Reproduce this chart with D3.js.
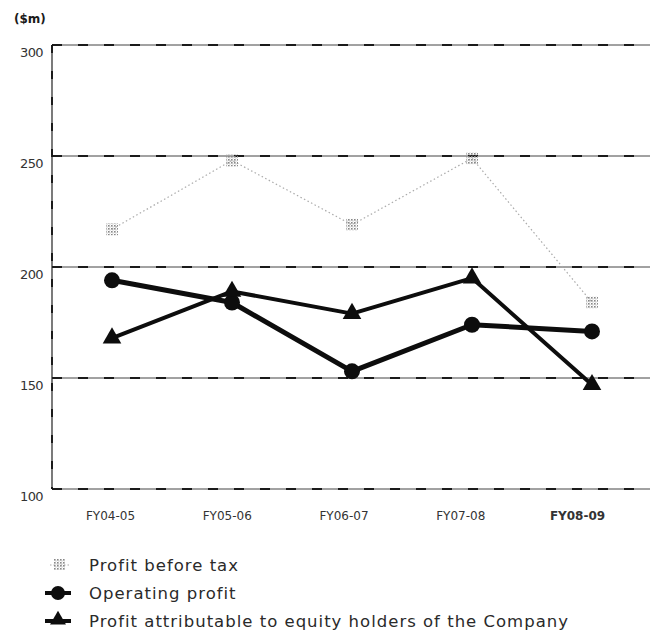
<!DOCTYPE html>
<html>
<head>
<meta charset="utf-8">
<script src="https://cdn.jsdelivr.net/npm/d3@7/dist/d3.min.js"></script>
<style>
  html, body { margin: 0; padding: 0; background: #fff; }
  svg { display: block; font-family: "DejaVu Sans", "Noto Sans", sans-serif; }
</style>
</head>
<body>
<svg id="chart" width="650" height="632"></svg>
<script>
// Financial years on the x axis
const categories = ["FY04-05", "FY05-06", "FY06-07", "FY07-08", "FY08-09"];
// Values in $m
const profitBeforeTax = [217, 248, 219, 249, 184];
const operatingProfit = [194, 184, 153, 174, 171];
const profitAttributable = [168, 189, 179, 195, 147];
// Y axis ticks
const yTicks = [100, 150, 200, 250, 300];
const legendLabels = [
  "Profit before tax",
  "Operating profit",
  "Profit attributable to equity holders of the Company"
];

const svg = d3.select("#chart");
const plotLeft = 52, plotRight = 650, plotTop = 45, plotBottom = 489;

const x = d3.scalePoint().domain(categories).range([112, 592]);
const xLabel = d3.scalePoint().domain(categories).range([110, 577]);
const y = d3.scaleLinear().domain([100, 300]).range([plotBottom, plotTop]);

// Hatched fill for the profit-before-tax markers
const defs = svg.append("defs");
const pat = defs.append("pattern").attr("id", "hatch")
  .attr("width", 3).attr("height", 3).attr("patternUnits", "userSpaceOnUse");
pat.append("rect").attr("width", 1.6).attr("height", 1.6).attr("fill", "#888");
pat.append("rect").attr("x", 1.5).attr("y", 1.5).attr("width", 1).attr("height", 1).attr("fill", "#aaa");

// Unit label
svg.append("text").attr("x", 14).attr("y", 23)
  .attr("font-size", 12).attr("font-weight", 700).attr("fill", "#1a1a1a")
  .text("($m)");

// Horizontal grid lines: thin rule with heavier dashes on top
const grid = svg.append("g");
grid.selectAll("line.rule").data(yTicks).join("line").attr("class", "rule")
  .attr("x1", plotLeft).attr("x2", plotRight)
  .attr("y1", d => y(d)).attr("y2", d => y(d))
  .attr("stroke", "#444").attr("stroke-width", 1);
grid.selectAll("line.dash").data(yTicks).join("line").attr("class", "dash")
  .attr("x1", plotLeft).attr("x2", plotRight)
  .attr("y1", d => y(d)).attr("y2", d => y(d))
  .attr("stroke", "#1a1a1a").attr("stroke-width", 1.8)
  .attr("stroke-dasharray", "10,16");

// Left axis line
svg.append("line").attr("x1", plotLeft).attr("x2", plotLeft)
  .attr("y1", plotTop).attr("y2", plotBottom)
  .attr("stroke", "#222").attr("stroke-width", 1.2);
svg.append("line").attr("x1", plotLeft).attr("x2", plotLeft)
  .attr("y1", plotTop).attr("y2", plotBottom)
  .attr("stroke", "#111").attr("stroke-width", 1.8)
  .attr("stroke-dasharray", "8,18");

// Y tick labels
const yAxis = d3.axisLeft(y).tickValues(yTicks).tickSize(0).tickPadding(9);
const gy = svg.append("g").attr("transform", `translate(${plotLeft},0)`).call(yAxis);
gy.select(".domain").remove();
gy.selectAll("text").attr("font-size", 13).attr("fill", "#333")
  .attr("font-family", "'DejaVu Sans', sans-serif").attr("font-weight", 400)
  .attr("letter-spacing", "-0.6px")
  .attr("dy", "0.85em");

// X tick labels
const xAxis = d3.axisBottom(xLabel).tickSize(0).tickPadding(22);
const gx = svg.append("g").attr("transform", `translate(0,${plotBottom})`).call(xAxis);
gx.select(".domain").remove();
gx.selectAll("text").attr("font-size", 12).attr("fill", "#333")
  .attr("font-family", "'DejaVu Sans', sans-serif")
  .attr("font-weight", d => d === "FY08-09" ? 700 : 400);

const line = d3.line().x((d, i) => x(categories[i])).y(d => y(d));

// Profit before tax: pale dotted line with grey hatched markers
svg.append("path").datum(profitBeforeTax).attr("d", line)
  .attr("fill", "none").attr("stroke", "#aaa").attr("stroke-width", 1.2)
  .attr("stroke-dasharray", "1.5,2.5");
svg.append("g").selectAll("rect").data(profitBeforeTax).join("rect")
  .attr("x", (d, i) => x(categories[i]) - 6).attr("y", d => y(d) - 6)
  .attr("width", 12).attr("height", 12).attr("fill", "url(#hatch)");

// Operating profit: thick black line with circles
svg.append("path").datum(operatingProfit).attr("d", line)
  .attr("fill", "none").attr("stroke", "#0d0d0d").attr("stroke-width", 5)
  .attr("stroke-linejoin", "round");
svg.append("g").selectAll("circle").data(operatingProfit).join("circle")
  .attr("cx", (d, i) => x(categories[i])).attr("cy", d => y(d))
  .attr("r", 8).attr("fill", "#0d0d0d");

// Profit attributable: thick black line with triangles
svg.append("path").datum(profitAttributable).attr("d", line)
  .attr("fill", "none").attr("stroke", "#0d0d0d").attr("stroke-width", 4)
  .attr("stroke-linejoin", "round");
const tri = d3.symbol().type(d3.symbolTriangle).size(150);
svg.append("g").selectAll("path").data(profitAttributable).join("path")
  .attr("transform", (d, i) => `translate(${x(categories[i])},${y(d)})`)
  .attr("d", tri).attr("fill", "#0d0d0d");

// Legend
const legend = svg.append("g");
const ly = [565, 593, 621];
legendLabels.forEach((label, i) => {
  const g = legend.append("g").attr("transform", `translate(0,${ly[i]})`);
  if (i === 0) {
    g.append("line").attr("x1", 50).attr("x2", 70).attr("y1", 0).attr("y2", 0)
      .attr("stroke", "#aaa").attr("stroke-width", 1).attr("stroke-dasharray", "1.5,2");
    g.append("rect").attr("x", 54).attr("y", -6).attr("width", 11).attr("height", 11)
      .attr("fill", "url(#hatch)");
  } else {
    g.append("line").attr("x1", 45).attr("x2", 71).attr("y1", 0).attr("y2", 0)
      .attr("stroke", "#0d0d0d").attr("stroke-width", 4);
    if (i === 1) {
      g.append("circle").attr("cx", 58).attr("cy", 0).attr("r", 7).attr("fill", "#0d0d0d");
    } else {
      g.append("path").attr("transform", "translate(58,-1)")
        .attr("d", d3.symbol().type(d3.symbolTriangle).size(110)).attr("fill", "#0d0d0d");
    }
  }
  g.append("text").attr("x", 89).attr("y", 0).attr("dy", "0.36em")
    .attr("font-size", 16.5).attr("fill", "#2a2a2a").attr("font-weight", 400)
    .attr("letter-spacing", "1px")
    .text(label);
});
</script>
</body>
</html>
